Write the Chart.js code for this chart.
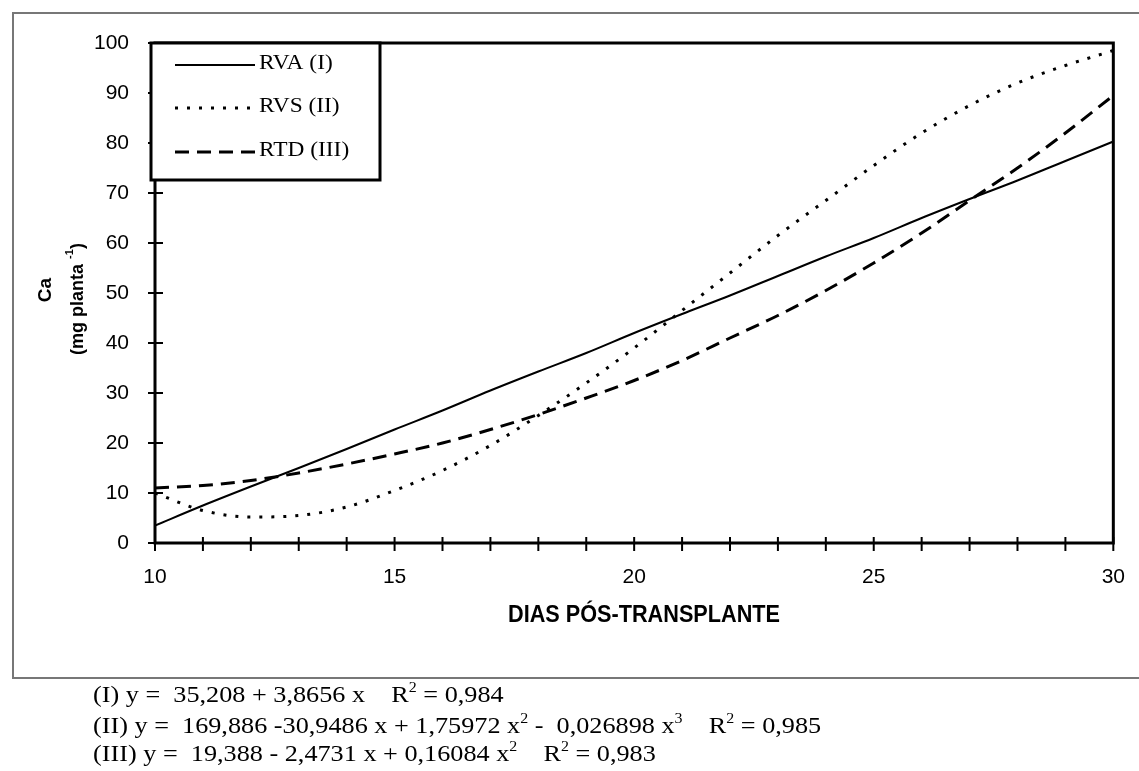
<!DOCTYPE html>
<html>
<head>
<meta charset="utf-8">
<script src="https://cdn.jsdelivr.net/npm/chart.js@4.4.1/dist/chart.umd.min.js"></script>
<style>
  html, body { margin: 0; padding: 0; background: #fff; }
  canvas { display: block; }
</style>
</head>
<body>
<canvas id="caChart" width="1139" height="771"></canvas>
<script>
// values (Ca, mg per plant)
const days = [10, 11, 12, 13, 14, 15, 16, 17, 18, 19, 20, 21, 22, 23, 24, 25, 26, 27, 28, 29, 30];
const rva = [3.5, 7.5, 11.3, 15, 18.8, 22.7, 26.5, 30.5, 34.3, 38, 42, 45.8, 49.5, 53.4, 57.3, 61, 65, 68.8, 72.5, 76.4, 80.3];
const rvs = [10, 6.5, 5.2, 5.5, 7.2, 10.5, 14.5, 19.5, 25.5, 32, 39, 46.5, 54, 61.5, 68.5, 75.5, 82, 87.5, 92, 95.5, 98.5];
const rtd = [11, 11.5, 12.5, 14, 15.8, 17.8, 20, 22.7, 25.7, 29, 32.5, 36.5, 41, 45.5, 50.5, 56, 62, 68.5, 75, 82, 89.5];

const seriesNames = ['RVA (I)', 'RVS (II)', 'RTD (III)'];
const xLabelDays = [10, 15, 20, 25, 30];

const SANS = '"Liberation Sans", Arial, sans-serif';
const SERIF = '"Liberation Serif", "Times New Roman", serif';

// line look for each series: solid, dotted, dashed
const styles = [
  { width: 2, dash: [] },
  { width: 3, dash: [3, 9] },
  { width: 3, dash: [14, 8] }
];

const toPoints = vals => days.map((d, i) => ({ x: d, y: vals[i] }));

const equations = [
  [['(I) y =  35,208 + 3,8656 x    R'], ['2', 1], [' = 0,984']],
  [['(II) y =  169,886 -30,9486 x + 1,75972 x'], ['2', 1], [' -  0,026898 x'], ['3', 1], ['    R'], ['2', 1], [' = 0,985']],
  [['(III) y =  19,388 - 2,4731 x + 0,16084 x'], ['2', 1], ['    R'], ['2', 1], [' = 0,983']]
];

// draws a run of text pieces, some of them raised as superscripts
function drawRich(ctx, parts, x, y, size, family, weight) {
  let cx = x;
  parts.forEach(([txt, sup]) => {
    const fs = sup ? Math.round(size * 0.62) : size;
    ctx.font = (weight || '') + ' ' + fs + 'px ' + family;
    ctx.fillText(txt, cx, sup ? y - size * 0.42 : y);
    cx += ctx.measureText(txt).width;
  });
  return cx - x;
}
function richWidth(ctx, parts, size, family, weight) {
  let w = 0;
  parts.forEach(([txt, sup]) => {
    const fs = sup ? Math.round(size * 0.62) : size;
    ctx.font = (weight || '') + ' ' + fs + 'px ' + family;
    w += ctx.measureText(txt).width;
  });
  return w;
}

const decor = {
  id: 'decor',
  beforeDraw(chart) {
    const ctx = chart.ctx;
    ctx.save();
    ctx.fillStyle = '#fff';
    ctx.fillRect(0, 0, chart.width, chart.height);
    // grey frame of the scanned figure (open on the right)
    ctx.strokeStyle = '#777';
    ctx.lineWidth = 2;
    ctx.beginPath();
    ctx.moveTo(1139, 13); ctx.lineTo(13, 13); ctx.lineTo(13, 678); ctx.lineTo(1139, 678);
    ctx.stroke();
    ctx.restore();
  },
  afterDatasetsDraw(chart) {
    const ctx = chart.ctx;
    const a = chart.chartArea;
    const xs = chart.scales.x, ys = chart.scales.y;
    ctx.save();
    ctx.strokeStyle = '#000';
    ctx.fillStyle = '#000';

    // plot box
    ctx.lineWidth = 3;
    ctx.strokeRect(a.left, a.top, a.right - a.left, a.bottom - a.top);

    // tick marks crossing the axes
    ctx.lineWidth = 2;
    ys.ticks.forEach(t => {
      const py = ys.getPixelForValue(t.value);
      ctx.beginPath(); ctx.moveTo(a.left - 7, py); ctx.lineTo(a.left + 8, py); ctx.stroke();
    });
    xs.ticks.forEach(t => {
      const px = xs.getPixelForValue(t.value);
      ctx.beginPath(); ctx.moveTo(px, a.bottom - 6); ctx.lineTo(px, a.bottom + 8); ctx.stroke();
    });

    // legend box
    ctx.fillStyle = '#fff';
    ctx.fillRect(a.left - 4, a.top, 229, 137);
    ctx.lineWidth = 3;
    ctx.strokeRect(a.left - 4, a.top, 229, 137);
    const rowY = [65, 108, 152];
    chart.data.datasets.forEach((ds, i) => {
      ctx.lineWidth = ds.borderWidth;
      ctx.setLineDash(ds.borderDash);
      ctx.beginPath(); ctx.moveTo(175, rowY[i]); ctx.lineTo(255, rowY[i]); ctx.stroke();
      ctx.setLineDash([]);
      ctx.save();
      ctx.fillStyle = '#000';
      ctx.font = '20px ' + SERIF;
      ctx.textBaseline = 'alphabetic';
      ctx.translate(259, rowY[i] + 4);
      ctx.scale(1.17, 1);
      ctx.fillText(ds.label, 0, 0);
      ctx.restore();
    });

    // y axis title, two lines, rotated
    ctx.fillStyle = '#000';
    ctx.textBaseline = 'middle';
    ctx.save();
    ctx.translate(46, 290);
    ctx.rotate(-Math.PI / 2);
    ctx.textAlign = 'center';
    ctx.font = 'bold 19px ' + SANS;
    ctx.fillText('Ca', 0, 0);
    ctx.restore();

    ctx.save();
    ctx.translate(78, 299);
    ctx.rotate(-Math.PI / 2);
    ctx.textAlign = 'left';
    const yt = [['(mg planta '], ['-1', 1], [')']];
    const yw = richWidth(ctx, yt, 18, SANS, 'bold');
    drawRich(ctx, yt, -yw / 2, 0, 18, SANS, 'bold');
    ctx.restore();

    // x axis title, condensed bold
    ctx.save();
    ctx.font = 'bold 24px "Liberation Sans Narrow", ' + SANS;
    const xt = 'DIAS PÓS-TRANSPLANTE';
    const xw = ctx.measureText(xt).width;
    ctx.translate(644, 615);
    ctx.scale(272 / xw, 1);
    ctx.textAlign = 'center';
    ctx.fillText(xt, 0, 0);
    ctx.restore();

    // regression equations under the figure
    ctx.textAlign = 'left';
    ctx.textBaseline = 'alphabetic';
    const eqY = [702, 733, 761];
    equations.forEach((parts, i) => {
      ctx.save();
      ctx.translate(93, eqY[i]);
      ctx.scale(1.14, 1);
      drawRich(ctx, parts, 0, 0, 23, SERIF);
      ctx.restore();
    });

    ctx.restore();
  }
};

new Chart(document.getElementById('caChart'), {
  type: 'line',
  data: {
    datasets: [rva, rvs, rtd].map((vals, i) => ({
      label: seriesNames[i],
      data: toPoints(vals),
      borderColor: '#000',
      borderWidth: styles[i].width,
      borderDash: styles[i].dash,
      borderCapStyle: 'butt',
      pointRadius: 0,
      fill: false,
      cubicInterpolationMode: 'monotone'
    }))
  },
  options: {
    responsive: false,
    devicePixelRatio: 1,
    animation: false,
    layout: { padding: { left: 0, top: 43, right: 13, bottom: 0 } },
    plugins: { legend: { display: false }, tooltip: { enabled: false } },
    scales: {
      x: {
        type: 'linear',
        min: 10,
        max: 30,
        grid: { display: false },
        border: { display: false },
        ticks: {
          stepSize: 1,
          autoSkip: false,
          maxRotation: 0,
          padding: 14,
          color: '#000',
          font: { family: SANS, size: 21 },
          callback: v => xLabelDays.includes(v) ? String(v) : ''
        },
        afterFit: s => { s.height = 228; }
      },
      y: {
        min: 0,
        max: 100,
        grid: { display: false },
        border: { display: false },
        ticks: {
          stepSize: 10,
          padding: 18,
          color: '#000',
          font: { family: SANS, size: 21 }
        },
        afterFit: s => { s.width = 155; }
      }
    }
  },
  plugins: [decor]
});
</script>
</body>
</html>
